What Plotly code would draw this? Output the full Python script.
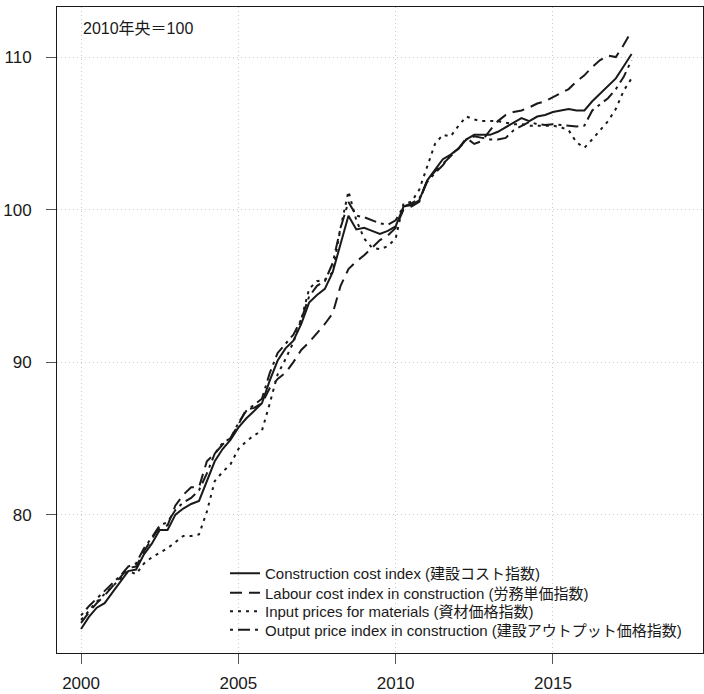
import plotly.graph_objects as go

start_year = 2000
n_quarters = 71
quarters = [start_year + i * 0.25 for i in range(n_quarters)]

construction_cost = [
    72.5, 73.3, 73.9, 74.2,
    74.9, 75.6, 76.3, 76.4,
    77.4, 78.1, 79.0, 79.0,
    80.0, 80.4, 80.7, 80.9,
    82.2, 83.5, 84.3, 84.9,
    85.7, 86.3, 86.8, 87.3,
    88.8, 90.1, 90.9, 91.4,
    92.5, 93.9, 94.4, 94.8,
    95.9, 97.8, 99.6, 98.7,
    98.8, 98.6, 98.4, 98.6,
    98.9, 100.2, 100.3, 100.6,
    101.9, 102.6, 103.3, 103.6,
    104.0, 104.6, 104.9, 104.9,
    104.9, 105.1, 105.4, 105.7,
    106.0, 105.8, 106.1, 106.2,
    106.4, 106.5, 106.6, 106.5,
    106.5, 107.1, 107.6, 108.1,
    108.6, 109.4, 110.2,
]

labour_cost = [
    72.9, 73.6, 74.2, 74.7,
    75.3, 75.9, 76.5, 76.6,
    77.6, 78.4, 79.2, 79.3,
    80.6, 81.3, 81.8, 81.8,
    83.5, 84.0, 84.6, 85.0,
    85.9, 86.9, 87.0, 87.3,
    88.3, 88.9, 89.3, 90.0,
    90.8, 91.3, 91.9, 92.5,
    93.2, 95.0, 96.1, 96.6,
    97.0, 97.5, 98.0, 98.3,
    98.8, 100.0, 100.2, 100.5,
    101.9, 102.5, 103.0, 103.5,
    104.0, 104.7, 104.3, 104.5,
    105.2, 105.8, 106.2, 106.4,
    106.5, 106.7, 106.95, 107.1,
    107.35, 107.6, 107.9, 108.4,
    108.8, 109.35, 109.8, 110.1,
    110.0, 110.8, 111.7,
]

input_materials = [
    73.1, 73.7, 74.3, 74.8,
    75.3, 75.8, 76.3, 76.1,
    76.8, 77.2, 77.5, 77.8,
    78.2, 78.6, 78.6, 78.7,
    80.2, 82.2, 82.8, 83.3,
    84.3, 84.8, 85.2, 85.5,
    87.3, 89.2, 90.2, 91.3,
    92.8, 94.8, 95.3, 95.4,
    95.9, 98.8, 101.2, 99.3,
    98.1, 97.5, 97.4, 97.6,
    98.1, 100.4, 100.5, 101.3,
    102.8, 104.3, 104.9, 104.8,
    105.5, 106.1, 105.9, 105.8,
    105.8, 105.8, 105.7, 105.6,
    105.6, 105.5, 105.5, 105.5,
    105.5, 105.4, 105.2, 104.4,
    104.05, 104.6, 105.2, 105.8,
    106.6, 107.8, 108.6,
]

output_price = [
    73.4, 74.0, 74.5, 75.0,
    75.5, 76.0, 76.6, 76.8,
    77.8, 78.5, 79.3, 79.5,
    80.3, 80.8, 81.1, 81.6,
    82.7, 84.0, 84.7, 85.0,
    86.0, 86.8, 87.2, 87.6,
    89.3, 90.6, 91.2, 91.8,
    92.8, 94.3, 95.0, 95.3,
    96.5, 98.8, 100.5, 99.6,
    99.5, 99.3, 99.1, 99.0,
    99.3, 100.2, 100.4, 100.7,
    101.8, 102.4, 102.9, 103.6,
    104.0, 104.6, 104.8, 104.7,
    104.6, 104.6, 104.7, 105.2,
    105.5, 105.75, 105.6, 105.55,
    105.6, 105.55, 105.5, 105.45,
    105.5, 106.5, 106.9, 107.3,
    107.9, 108.7, 109.8,
]

series_names = [
    "Construction cost index (建設コスト指数)",
    "Labour cost index in construction (労務単価指数)",
    "Input prices for materials (資材価格指数)",
    "Output price index in construction (建設アウトプット価格指数)",
]
series_values = [construction_cost, labour_cost, input_materials, output_price]
series_dash = ["solid", "12px,7px", "3px,5px", "3px,5px,12px,5px"]

x_tick_vals = [2000, 2005, 2010, 2015]
y_tick_vals = [80, 90, 100, 110]
base_note = "2010年央＝100"

FONT = "Liberation Sans, Arial, Noto Sans CJK JP, sans-serif"
INK = "#1a1a1a"

W, H = 704, 694
ML, MR, MT, MB = 57, 1, 7, 41
PW, PH = W - ML - MR, H - MT - MB

legend_ids = ["legend", "legend2", "legend3", "legend4"]
legend_rows_px = [573.5, 593, 611.5, 630]   # vertical centres of legend rows
legend_left_px = 225

fig = go.Figure()
for name, vals, dash, lid in zip(series_names, series_values, series_dash, legend_ids):
    fig.add_trace(go.Scatter(
        x=quarters, y=vals, mode="lines", name=name, legend=lid,
        line=dict(color=INK, width=2, dash=dash),
    ))

legend_common = dict(
    xanchor="left", yanchor="middle",
    bgcolor="rgba(0,0,0,0)", borderwidth=0,
    font=dict(size=15, family=FONT, color=INK),
    itemwidth=30,
)
layout_legends = {}
for lid, ypx in zip(legend_ids, legend_rows_px):
    layout_legends[lid] = dict(
        x=(legend_left_px - ML) / PW,
        y=1 - (ypx - MT) / PH,
        **legend_common,
    )

fig.update_layout(
    width=W, height=H,
    margin=dict(l=ML, r=MR, t=MT, b=MB),
    paper_bgcolor="white", plot_bgcolor="white",
    font=dict(family=FONT, color=INK, size=17),
    showlegend=True,
    annotations=[dict(
        x=(81 - ML) / PW, y=1 - (29 - MT) / PH, xref="paper", yref="paper",
        xanchor="left", yanchor="middle", showarrow=False,
        text=base_note, font=dict(size=16, family=FONT, color=INK),
    )],
    **layout_legends,
)

axis_common = dict(
    ticks="outside", ticklen=10, tickcolor="#555555", tickwidth=1,
    showline=True, linecolor=INK, linewidth=1, mirror=True,
    showgrid=True, gridcolor="#cccccc", griddash="1px,3px", gridwidth=1,
    zeroline=False, automargin=False,
    tickfont=dict(size=17, family=FONT, color=INK),
)
fig.update_xaxes(range=[1999.236, 2019.77], tickvals=x_tick_vals,
                 ticklabelstandoff=5, **axis_common)
fig.update_yaxes(range=[70.93, 113.28], tickvals=y_tick_vals,
                 ticklabelstandoff=11, **axis_common)

fig.write_html(
    "out.html",
    config={"displayModeBar": False},
    post_script="document.body.style.margin='0';document.body.style.overflow='hidden';",
)
